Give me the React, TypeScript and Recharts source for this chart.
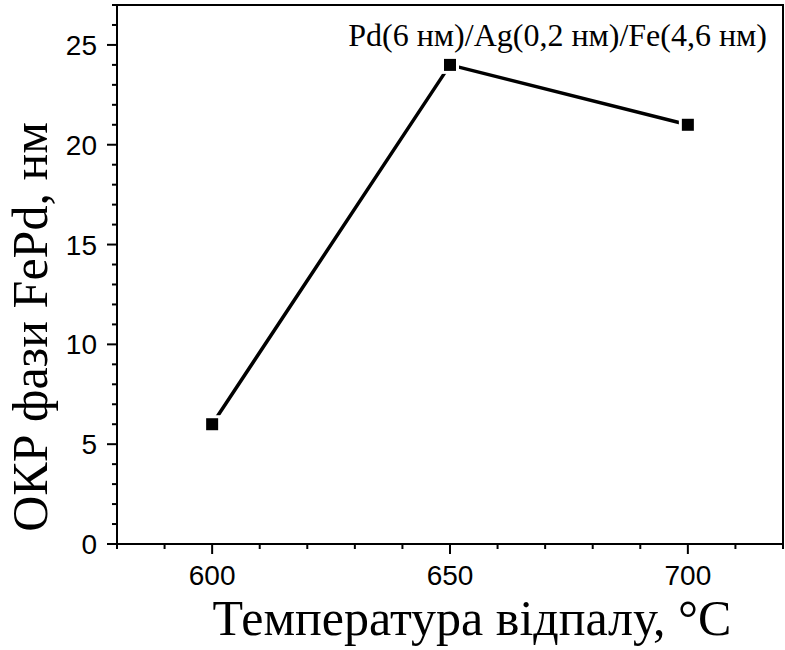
import React from "react";
import { LineChart, Line, XAxis, YAxis, ReferenceArea, Label, Customized } from "recharts";

const temperatures = [600, 650, 700];
const crystalliteSizes = [6, 24, 21];
const xTicks = [580, 590, 600, 610, 620, 630, 640, 650, 660, 670, 680, 690, 700, 710, 720];
const xMajor = [600, 650, 700];
const yTicks = [0, 1, 2, 3, 4, 5, 6, 7, 8, 9, 10, 11, 12, 13, 14, 15, 16, 17, 18, 19, 20, 21, 22, 23, 24, 25, 26, 27];
const yMajor = [0, 5, 10, 15, 20, 25];
const xTitle = "Температура відпалу, °C";
const yTitle = "ОКР фази FePd, нм";
const annotation = "Pd(6 нм)/Ag(0,2 нм)/Fe(4,6 нм)";

const data = temperatures.map((t, i) => ({ t, size: crystalliteSizes[i] }));

const TICK_FONT = "Liberation Sans, Arial, sans-serif";
const SERIF = "Liberation Serif, Times New Roman, serif";

const XTick = (props: any) => {
  const { x, y, payload } = props;
  const major = xMajor.includes(payload.value);
  return (
    <g>
      <line x1={x} x2={x} y1={y} y2={y + (major ? 10 : 5)} stroke="#000" strokeWidth={2} />
      {major && (
        <text x={x} y={y + 41} textAnchor="middle" fontFamily={TICK_FONT} fontSize={28} fill="#000">
          {payload.value}
        </text>
      )}
    </g>
  );
};

const YTick = (props: any) => {
  const { x, y, payload } = props;
  const major = yMajor.includes(payload.value);
  return (
    <g>
      <line x1={x} x2={x - (major ? 10 : 5)} y1={y} y2={y} stroke="#000" strokeWidth={2} />
      {major && (
        <text x={x - 20} y={y + 10} textAnchor="end" fontFamily={TICK_FONT} fontSize={28} fill="#000">
          {payload.value}
        </text>
      )}
    </g>
  );
};

const SquareDot = (props: any) => {
  const { cx, cy, index } = props;
  return (
    <g key={`d${index}`}>
      <rect x={cx - 9} y={cy - 9} width={18} height={18} fill="#fff" />
      <rect x={cx - 6} y={cy - 6} width={12} height={12} fill="#000" />
    </g>
  );
};

const Annotation = () => (
  <text x={767} y={46} textAnchor="end" fontFamily={SERIF} fontSize={32} fill="#000">
    {annotation}
  </text>
);

export default function App() {
  return (
    <div style={{ position: "absolute", left: 0, top: 0, background: "#fff" }}>
      <LineChart width={785} height={650} data={data} margin={{ top: 5, right: 2, bottom: 0, left: 0 }}>
        <ReferenceArea x1={580} x2={720} y1={0} y2={27} fill="none" stroke="#000" strokeWidth={2} ifOverflow="visible" />
        <XAxis
          dataKey="t"
          type="number"
          domain={[580, 720]}
          ticks={xTicks}
          interval={0}
          height={106}
          tickSize={0}
          tickMargin={0}
          tickLine={false}
          axisLine={{ stroke: "#000", strokeWidth: 2 }}
          tick={<XTick />}
        >
          <Label
            content={() => (
              <text x={472} y={635} textAnchor="middle" fontFamily={SERIF} fontSize={50} fill="#000">
                {xTitle}
              </text>
            )}
          />
        </XAxis>
        <YAxis
          type="number"
          domain={[0, 27]}
          ticks={yTicks}
          interval={0}
          width={117}
          tickSize={0}
          tickMargin={0}
          tickLine={false}
          axisLine={{ stroke: "#000", strokeWidth: 2 }}
          tick={<YTick />}
        >
          <Label
            content={() => (
              <text
                x={47}
                y={327}
                textAnchor="middle"
                fontFamily={SERIF}
                fontSize={50}
                fill="#000"
                transform="rotate(-90 47 327)"
              >
                {yTitle}
              </text>
            )}
          />
        </YAxis>
        <Line
          type="linear"
          dataKey="size"
          stroke="#000"
          strokeWidth={3.5}
          dot={<SquareDot />}
          activeDot={false}
          isAnimationActive={false}
        />
        <Customized component={Annotation} />
      </LineChart>
    </div>
  );
}
